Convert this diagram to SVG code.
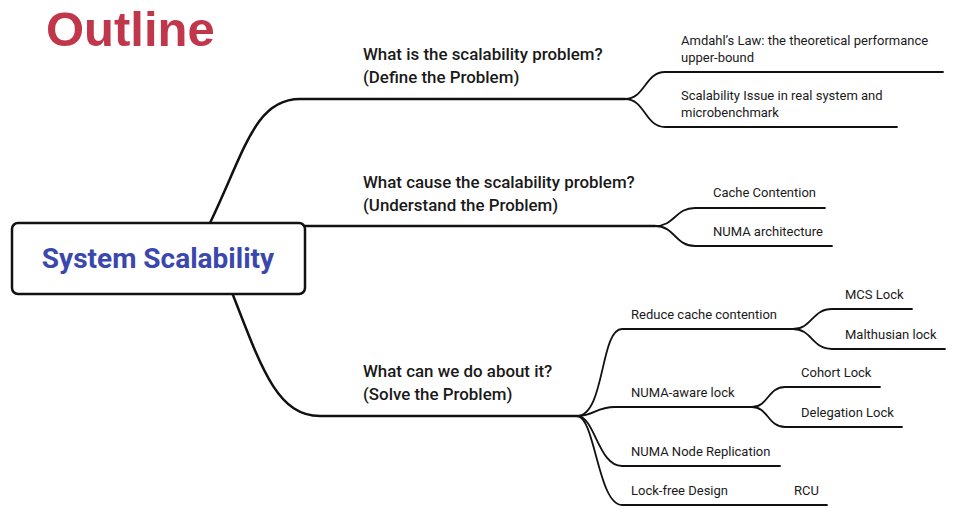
<svg xmlns="http://www.w3.org/2000/svg" width="956" height="517" viewBox="0 0 956 517">
<style>
.t{font-family:Roboto,"Liberation Sans",sans-serif;fill:#1a1a1a}
.m{font-size:16.9px;font-weight:500}
.c{font-size:13px}
.l{fill:none;stroke:#111;stroke-linecap:round}
.w1{stroke-width:2.5}
.w2{stroke-width:1.8}
</style>
<rect width="956" height="517" fill="#fff"/>
<text x="46" y="46" font-family="'Liberation Sans',Arial,sans-serif" font-size="49" font-weight="bold" fill="#c0364a">Outline</text>
<g id="connectors">
<path class="l w1" d="M210,223 C245,150 255,99 300,99 L625,99"/>
<path class="l w1" d="M305,226 L655,226"/>
<path class="l w1" d="M233,295 C262,370 278,416 320,416 L577,416"/>
<path class="l w2" d="M625,99 C645,99 645,72 665,72 L943,72"/>
<path class="l w2" d="M625,99 C645,99 645,127 665,127 L897,127"/>
<path class="l w2" d="M655,226 C675,226 675,208 695,208 L825,208"/>
<path class="l w2" d="M655,226 C675,226 675,246 695,246 L832,246"/>
<path class="l w2" d="M577,416 C605,416 600,329 622,329 L793,329"/>
<path class="l w2" d="M577,416 C595,416 595,407 615,407 L752,407"/>
<path class="l w2" d="M577,416 C595,416 598,466 622,466 L780,466"/>
<path class="l w2" d="M577,416 C595,416 598,505 622,505 L827,505"/>
<path class="l w2" d="M793,329 C812,329 812,309 832,309 L912,309"/>
<path class="l w2" d="M793,329 C812,329 812,349 832,349 L945,349"/>
<path class="l w2" d="M752,407 C768,407 768,387 785,387 L880,387"/>
<path class="l w2" d="M752,407 C768,407 768,427 785,427 L902,427"/>
</g>
<g id="root">
<rect x="12" y="223" width="293" height="71" rx="6" fill="#fff" stroke="#111" stroke-width="2.5"/>
<text x="158" y="268" text-anchor="middle" font-family="Roboto,'Liberation Sans',sans-serif" font-size="28" font-weight="bold" fill="#3a48ad">System Scalability</text>
</g>
<g id="define"><text class="t m" x="363" y="60">What is the scalability problem?</text><text class="t m" x="363" y="83">(Define the Problem)</text></g>
<g id="understand"><text class="t m" x="363" y="188">What cause the scalability problem?</text><text class="t m" x="363" y="211">(Understand the Problem)</text></g>
<g id="solve"><text class="t m" x="363" y="377">What can we do about it?</text><text class="t m" x="363" y="400">(Solve the Problem)</text></g>
<g id="amdahl"><text class="t c" x="681" y="45">Amdahl’s Law: the theoretical performance</text><text class="t c" x="681" y="62">upper-bound</text></g>
<g id="issue"><text class="t c" x="681" y="100">Scalability Issue in real system and</text><text class="t c" x="681" y="117">microbenchmark</text></g>
<g id="cache"><text class="t c" x="713" y="197">Cache Contention</text></g>
<g id="numa"><text class="t c" x="713" y="236">NUMA architecture</text></g>
<g id="reduce"><text class="t c" x="631" y="319">Reduce cache contention</text></g>
<g id="mcs"><text class="t c" x="845" y="299">MCS Lock</text></g>
<g id="malthusian"><text class="t c" x="845" y="339">Malthusian lock</text></g>
<g id="numaaware"><text class="t c" x="631" y="397">NUMA-aware lock</text></g>
<g id="cohort"><text class="t c" x="801" y="377">Cohort Lock</text></g>
<g id="delegation"><text class="t c" x="801" y="417">Delegation Lock</text></g>
<g id="replication"><text class="t c" x="631" y="456">NUMA Node Replication</text></g>
<g id="lockfree"><text class="t c" x="631" y="495">Lock-free Design</text></g>
<g id="rcu"><text class="t c" x="794" y="495">RCU</text></g>
</svg>
